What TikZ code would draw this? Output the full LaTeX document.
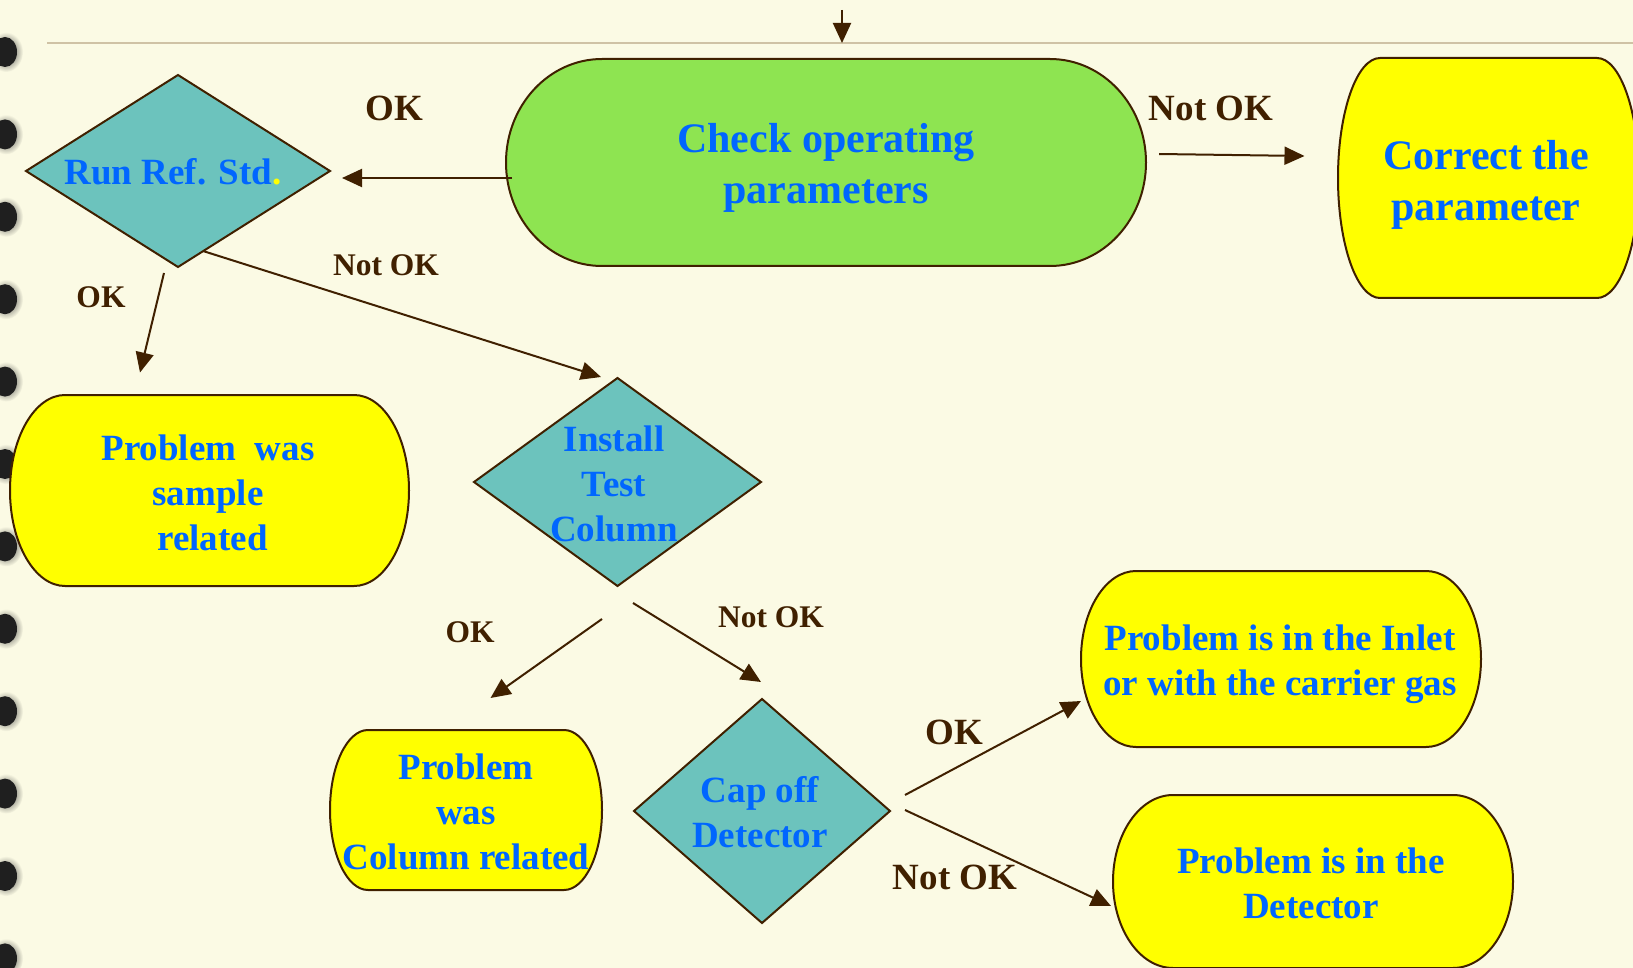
\documentclass[tikz,border=0pt]{standalone}
\usepackage{fontspec}
\setmainfont{Liberation Serif}
\usetikzlibrary{shapes.geometric,arrows.meta,calc}
\definecolor{bgc}{RGB}{251,250,228}
\definecolor{brn}{RGB}{64,32,0}
\definecolor{txtblue}{RGB}{0,102,255}
\definecolor{tealc}{RGB}{108,195,189}
\definecolor{greenc}{RGB}{142,228,81}
\definecolor{yelc}{RGB}{255,255,0}
\definecolor{tanc}{RGB}{207,194,165}
\tikzset{
  boxline/.style={draw=brn, line width=2pt},
  dia/.style={diamond, draw=brn, fill=tealc, line width=2pt, inner sep=0pt, outer sep=0pt},
  boxnode/.style={rectangle, inner sep=0pt, outer sep=0pt, align=center, text=txtblue},
  btext/.style={font=\bfseries\fontsize{37}{45}\selectfont},
  bigtext/.style={font=\bfseries\fontsize{42}{51}\selectfont},
  dtext/.style={text=txtblue, align=center, font=\bfseries\fontsize{37}{45}\selectfont},
  lbl/.style={text=brn, font=\bfseries\fontsize{37}{45}\selectfont},
  slbl/.style={text=brn, font=\bfseries\fontsize{31.5}{38}\selectfont},
  arr/.style={draw=brn, line width=2pt, -{Triangle[length=20pt,width=18pt]}},
  dotc/.style={fill=black!88},
}
% x1,y1,x2,y2,rx,ry,fill
\newcommand{\stadbox}[7]{%
  \filldraw[boxline,fill=#7] (#1+#5,#2) -- (#3-#5,#2)
    arc[start angle=90,end angle=-90,x radius=#5pt,y radius=#6pt]
    -- (#1+#5,#4)
    arc[start angle=-90,end angle=-270,x radius=#5pt,y radius=#6pt] -- cycle;}
\begin{document}
\begin{tikzpicture}[x=1pt,y=-1pt]
\useasboundingbox (0,0) rectangle (1633,968);
\fill[bgc] (0,0) rectangle (1633,968);

% binding dots
\foreach \k in {0,...,11} {
  \pgfmathsetmacro\yy{52+82.4*\k}
  \shade[inner color=black!80, outer color=bgc] (6,\yy) ellipse [x radius=17pt, y radius=20pt];
  \fill[dotc] (5,\yy) ellipse [x radius=12pt, y radius=15pt];
}

% top rule
\draw[tanc, line width=2pt] (47,43) -- (1633,43);

% stadium shapes
\stadbox{506}{59}{1146}{266}{96}{103.5}{greenc}
\stadbox{1338}{58}{1639}{298}{42}{120}{yelc}
\stadbox{10}{395}{409}{586}{55}{95.5}{yelc}
\stadbox{330}{730}{602}{890}{38}{80}{yelc}
\stadbox{1081}{571}{1481}{747}{55}{88}{yelc}
\stadbox{1113}{795}{1513}{968}{60}{86.5}{yelc}

% box nodes
\node[boxnode, bigtext, minimum width=640pt, minimum height=207pt] (check) at (826,168) {Check operating\\parameters};
\node[boxnode, bigtext, minimum width=301pt, minimum height=240pt] (correct) at (1486,185) {Correct the\\parameter};
\node[boxnode, btext, minimum width=399pt, minimum height=191pt] (sample) at (208,493) {Problem\ \ was\\sample\\\ related};
\node[boxnode, btext, minimum width=272pt, minimum height=160pt] (column) at (466,812) {Problem\\was\\Column related};
\node[boxnode, btext, minimum width=400pt, minimum height=176pt] (inlet) at (1280,664) {Problem is in the Inlet\\or with the carrier gas};
\node[boxnode, btext, minimum width=400pt, minimum height=173pt] (detector) at (1311,883) {Problem is in the\\Detector};

% diamonds
\node[dia, minimum width=304pt, minimum height=192pt] (runref) at (178,171) {};
\node[dtext] (runreft) at (173,172) {Run Ref. Std\textcolor{yelc}{.}};
\node[dia, minimum width=287pt, minimum height=208pt] (install) at (617.5,482) {};
\node[dtext] (installt) at (614,484) {Install\\Test\\Column};
\node[dia, minimum width=256pt, minimum height=224pt] (capoff) at (762,811) {};
\node[dtext] (capofft) at (760,812) {Cap off\\Detector};

% labels
\node[lbl] (l1) at (394,108) {OK};
\node[lbl] (l2) at (1211,108) {Not OK};
\node[slbl] (l3) at (386,265) {Not OK};
\node[slbl] (l4) at (101,297) {OK};
\node[slbl] (l5) at (470,632) {OK};
\node[slbl] (l6) at (771,617) {Not OK};
\node[lbl] (l7) at (954,732) {OK};
\node[lbl] (l8) at (955,877) {Not OK};

% connectors
\coordinate (tops) at (842,10);
\coordinate (tope) at (842,43);
\draw[arr] (tops) -- (tope);
\draw[arr] ($(check.west)+(6,10)$) -- ($(runref.east)+(12,7)$);
\draw[arr] ($(check.east)+(13,-14)$) -- ($(correct.west)+(-31,-29)$);
\draw[arr] ($(runref.south)+(-14,6)$) -- ($(sample.north)+(-68,-25)$);
\draw[arr] ($(runref.south)+(25,-16)$) -- ($(install.north)+(-16.5,-1)$);
\draw[arr] ($(install.south)+(-15.5,33)$) -- ($(column.north)+(24.5,-34)$);
\draw[arr] ($(install.south)+(15.5,17)$) -- ($(capoff.north)+(-1,-17)$);
\draw[arr] ($(capoff.east)+(15,-16)$) -- ($(inlet.west)+(1,37)$);
\draw[arr] ($(capoff.east)+(15,-1)$) -- ($(detector.west)+(0,23)$);
\end{tikzpicture}
\end{document}
